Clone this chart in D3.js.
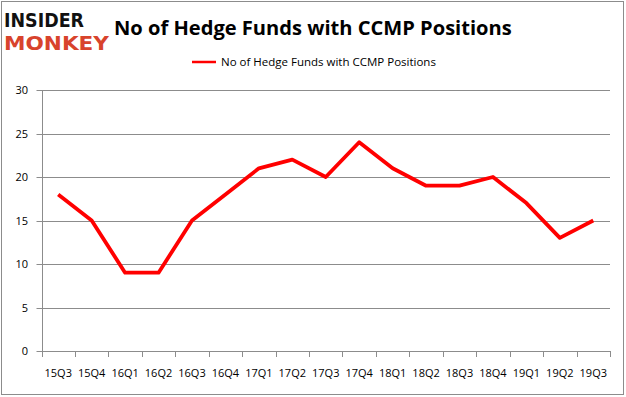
<!DOCTYPE html>
<html>
<head>
<meta charset="utf-8">
<script src="https://cdn.jsdelivr.net/npm/d3@7"></script>
<style>
  body { margin: 0; background: #fff; }
  svg { display: block; font-family: "Open Sans", "Liberation Sans", sans-serif; }
</style>
</head>
<body>
<svg id="chart" width="626" height="397"></svg>
<script>
// Chart data
const quarters = ["15Q3", "15Q4", "16Q1", "16Q2", "16Q3", "16Q4", "17Q1", "17Q2", "17Q3",
  "17Q4", "18Q1", "18Q2", "18Q3", "18Q4", "19Q1", "19Q2", "19Q3"];
const funds = [18, 15, 9, 9, 15, 18, 21, 22, 20, 24, 21, 19, 19, 20, 17, 13, 15];
const yTicks = [0, 5, 10, 15, 20, 25, 30];
const seriesName = "No of Hedge Funds with CCMP Positions";
const title = "No of Hedge Funds with CCMP Positions";

const svg = d3.select("#chart");
const gridColor = "#8c8c8c";

// outer frame
svg.append("rect")
  .attr("x", 1.5).attr("y", 1.5)
  .attr("width", 622).attr("height", 393)
  .attr("fill", "none").attr("stroke", "#8c8c8c").attr("stroke-width", 1);

// logo: two stacked words, squeezed into their boxes
function fitText(sel, w) {
  sel.attr("textLength", w).attr("lengthAdjust", "spacingAndGlyphs");
}
svg.append("text")
  .attr("x", 4).attr("y", 27)
  .attr("font-family", "DejaVu Sans").attr("font-weight", "bold").attr("font-size", 19.5)
  .attr("fill", "#111").text("INSIDER").call(fitText, 80);
svg.append("text")
  .attr("x", 4).attr("y", 50)
  .attr("font-family", "DejaVu Sans").attr("font-weight", "bold").attr("font-size", 19.5)
  .attr("fill", "#d8432c").text("MONKEY").call(fitText, 105);

// title, sized to span the same width as the reference
const titleText = svg.append("text")
  .attr("x", 114).attr("y", 35)
  .attr("font-weight", "bold").attr("font-size", 20)
  .attr("fill", "#000").text(title);
const tw = titleText.node().getComputedTextLength();
titleText.attr("font-size", 20 * 398 / tw);

// legend
svg.append("line")
  .attr("x1", 192).attr("x2", 216).attr("y1", 62).attr("y2", 62)
  .attr("stroke", "#ff0000").attr("stroke-width", 2.5);
const legText = svg.append("text")
  .attr("x", 221).attr("y", 66)
  .attr("font-size", 11).attr("fill", "#000").text(seriesName);
const lw = legText.node().getComputedTextLength();
legText.attr("font-size", 11 * 215 / lw);

// plot area
const plotLeft = 41.5, plotRight = 610, plotTop = 90, plotBottom = 351;

const x = d3.scaleBand().domain(quarters).range([plotLeft, plotRight]).paddingInner(0).paddingOuter(0);
const y = d3.scaleLinear().domain([0, 30]).range([plotBottom, plotTop]);

// horizontal gridlines
svg.append("g")
  .selectAll("line")
  .data(yTicks.filter((t) => t > 0))
  .join("line")
  .attr("x1", plotLeft - 5).attr("x2", plotRight)
  .attr("y1", (d) => Math.round(y(d)) + 0.5).attr("y2", (d) => Math.round(y(d)) + 0.5)
  .attr("stroke", gridColor).attr("stroke-width", 1);

// y axis line and labels
svg.append("line")
  .attr("x1", Math.round(plotLeft) + 0.5).attr("x2", Math.round(plotLeft) + 0.5)
  .attr("y1", plotTop).attr("y2", plotBottom)
  .attr("stroke", gridColor);
svg.append("g")
  .selectAll("text")
  .data(yTicks)
  .join("text")
  .attr("x", 28).attr("y", (d) => y(d) + 4)
  .attr("text-anchor", "end").attr("font-size", 11).attr("fill", "#000")
  .text((d) => d);

// x axis line, tick marks at band edges, labels at band centers
svg.append("line")
  .attr("x1", plotLeft - 5).attr("x2", plotRight)
  .attr("y1", Math.round(y(0)) + 0.5).attr("y2", Math.round(y(0)) + 0.5)
  .attr("stroke", gridColor);
const edges = quarters.map((q) => x(q)).concat([plotRight]);
svg.append("g")
  .selectAll("line")
  .data(edges)
  .join("line")
  .attr("x1", (d) => Math.round(d) + 0.5).attr("x2", (d) => Math.round(d) + 0.5)
  .attr("y1", Math.round(y(0))).attr("y2", Math.round(y(0)) + 6)
  .attr("stroke", gridColor);
svg.append("g")
  .selectAll("text")
  .data(quarters)
  .join("text")
  .attr("x", (d) => x(d) + x.bandwidth() / 2).attr("y", 377)
  .attr("text-anchor", "middle").attr("font-size", 11).attr("fill", "#000")
  .text((d) => d);

// series line
const line = d3.line()
  .x((d, i) => x(quarters[i]) + x.bandwidth() / 2)
  .y((d) => y(d));
svg.append("path")
  .datum(funds)
  .attr("d", line)
  .attr("fill", "none")
  .attr("stroke", "#ff0000")
  .attr("stroke-width", 3.8)
  .attr("stroke-linejoin", "round");
</script>
</body>
</html>
